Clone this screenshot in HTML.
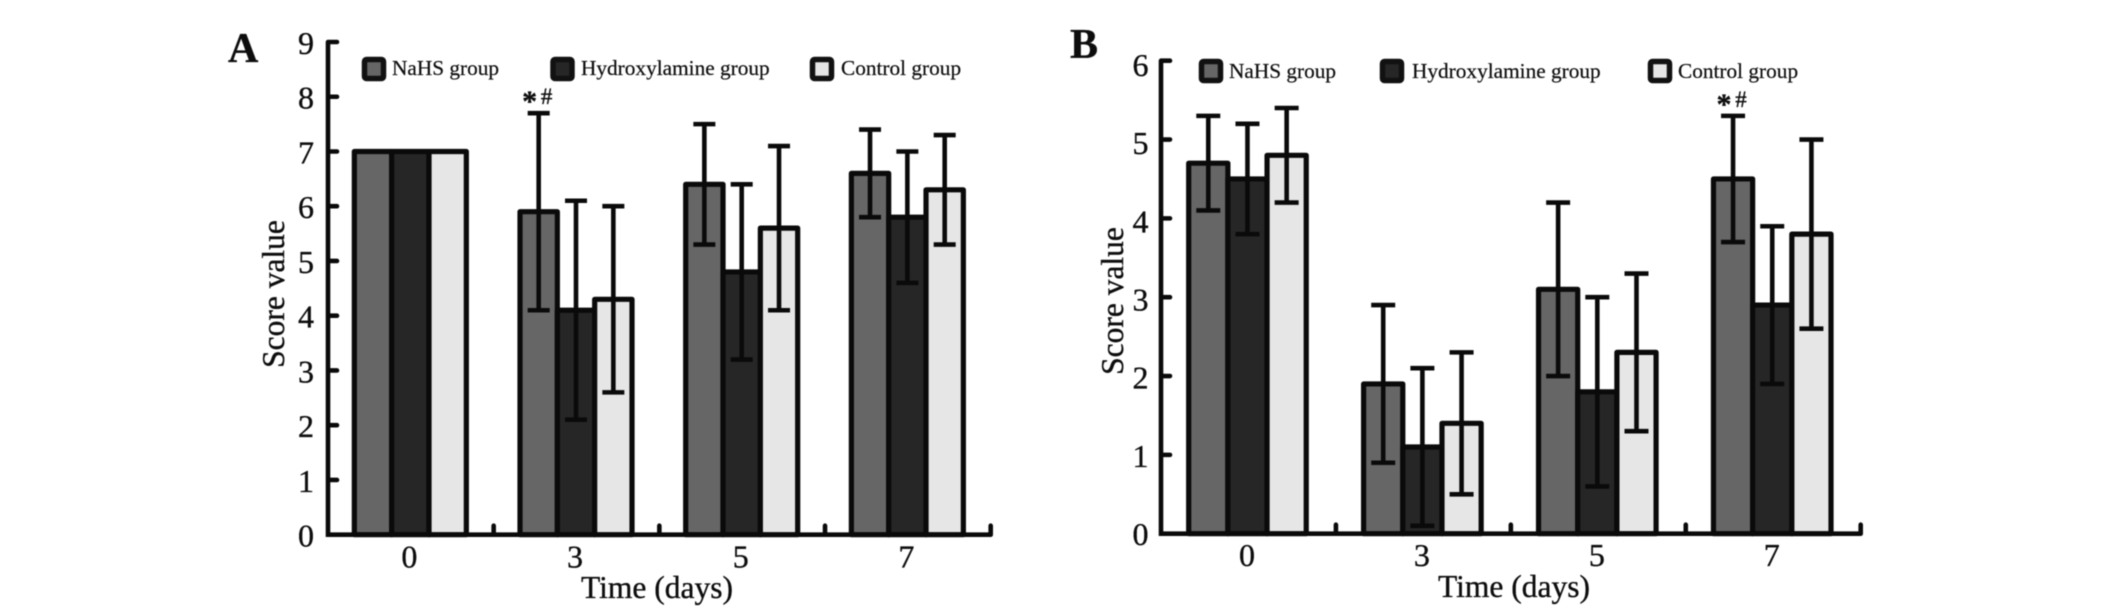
<!DOCTYPE html>
<html lang="en">
<head>
<meta charset="utf-8">
<title>Score value over time, panels A and B</title>
<style>
  html, body { margin: 0; padding: 0; background: #fff; }
  body { width: 2126px; height: 609px; overflow: hidden; }
  #figure { display: block; filter: blur(0.6px); }
  text { font-family: "Liberation Serif", serif; fill: #0d0d0d; stroke: #0d0d0d; stroke-width: 0.35px; }
  .tick { font-size: 32px; text-anchor: middle; }
  .title { font-size: 31.5px; text-anchor: middle; }
  .panel { font-size: 42px; font-weight: bold; }
  .leg { font-size: 21.3px; stroke-width: 0.2px; }
</style>
</head>
<body>
<svg id="figure" width="2126" height="609" viewBox="0 0 2126 609" xmlns="http://www.w3.org/2000/svg">
  <rect x="0" y="0" width="2126" height="609" fill="#fff"/>

  <g id="panelA">
    <text class="panel" x="228" y="62">A</text>
    <text class="title" transform="translate(284,294) rotate(-90)">Score value</text>
    <text class="title" x="657" y="598">Time (days)</text>
    <g>
      <rect x="364.5" y="59.5" width="19" height="19" rx="2" fill="#666" stroke="#111" stroke-width="5.5"/>
      <text class="leg" x="392" y="75">NaHS group</text>
      <rect x="553" y="59.5" width="19" height="19" rx="2" fill="#262626" stroke="#111" stroke-width="5.5"/>
      <text class="leg" x="581" y="75">Hydroxylamine group</text>
      <rect x="812.5" y="59.5" width="19" height="19" rx="2" fill="#e6e6e6" stroke="#111" stroke-width="5.5"/>
      <text class="leg" x="841" y="75">Control group</text>
    </g>
  </g>

  <g id="panelB">
    <text class="panel" x="1070" y="58">B</text>
    <text class="title" transform="translate(1123,301) rotate(-90)">Score value</text>
    <text class="title" x="1514" y="597">Time (days)</text>
    <g>
      <rect x="1201.5" y="61.5" width="19" height="19" rx="2" fill="#666" stroke="#111" stroke-width="5.5"/>
      <text class="leg" x="1229" y="78">NaHS group</text>
      <rect x="1382.5" y="61.5" width="19" height="19" rx="2" fill="#262626" stroke="#111" stroke-width="5.5"/>
      <text class="leg" x="1412" y="78">Hydroxylamine group</text>
      <rect x="1650.5" y="61.5" width="19" height="19" rx="2" fill="#e6e6e6" stroke="#111" stroke-width="5.5"/>
      <text class="leg" x="1678" y="78">Control group</text>
    </g>
  </g>
</svg>

<script>
// Shared categories
const categories = ['0', '3', '5', '7'];

// Panel A values
const yTicksA = [0, 1, 2, 3, 4, 5, 6, 7, 8, 9];
const nahsA = [7, 5.9, 6.4, 6.6];
const nahsHighA = [null, 7.7, 7.5, 7.4];
const nahsLowA = [null, 4.1, 5.3, 5.8];
const hydroxylamineA = [7, 4.1, 4.8, 5.8];
const hydroxylamineHighA = [null, 6.1, 6.4, 7.0];
const hydroxylamineLowA = [null, 2.1, 3.2, 4.6];
const controlA = [7, 4.3, 5.6, 6.3];
const controlHighA = [null, 6.0, 7.1, 7.3];
const controlLowA = [null, 2.6, 4.1, 5.3];

// Panel B values
const yTicksB = [0, 1, 2, 3, 4, 5, 6];
const nahsB = [4.7, 1.9, 3.1, 4.5];
const nahsHighB = [5.3, 2.9, 4.2, 5.3];
const nahsLowB = [4.1, 0.9, 2.0, 3.7];
const hydroxylamineB = [4.5, 1.1, 1.8, 2.9];
const hydroxylamineHighB = [5.2, 2.1, 3.0, 3.9];
const hydroxylamineLowB = [3.8, 0.1, 0.6, 1.9];
const controlB = [4.8, 1.4, 2.3, 3.8];
const controlHighB = [5.4, 2.3, 3.3, 5.0];
const controlLowB = [4.2, 0.5, 1.3, 2.6];

// Significance marks sit on the NaHS bar of this category index
const markCategoryA = 1;
const markCategoryB = 3;

const SVG_NS = 'http://www.w3.org/2000/svg';
const INK = '#0a0a0a';

function make(tag, attrs, parent) {
  const el = document.createElementNS(SVG_NS, tag);
  for (const k in attrs) el.setAttribute(k, attrs[k]);
  parent.appendChild(el);
  return el;
}

function drawPanel(parent, cfg, yTicks, seriesList, markCategory) {
  const yMax = yTicks[yTicks.length - 1];
  const band = (cfg.right - cfg.left) / categories.length;
  const barW = band * cfg.barShare / 3;
  const yScale = v => cfg.y0 + (cfg.yTop - cfg.y0) * v / yMax;
  const labelScale = v => cfg.labelY0 + (cfg.labelYTop - cfg.labelY0) * v / yMax;
  const xScale = i => cfg.left + band * (i + 0.5);
  const barX = (c, s) => xScale(c) + (s - 1.5) * barW - cfg.barShift;

  // Bars
  seriesList.forEach((series, s) => {
    series.values.forEach((v, c) => {
      const bar = make('rect', {
        x: barX(c, s), y: yScale(v), width: barW, height: cfg.y0 - yScale(v),
        fill: series.fill, stroke: INK, 'stroke-width': 5.2, 'stroke-linejoin': 'round'
      }, parent);
      
      
    });
  });

  // Error bars
  seriesList.forEach((series, s) => {
    series.values.forEach((v, c) => {
      if (series.high[c] === null) return;
      const cx = barX(c, s) + barW / 2;
      const hi = yScale(series.high[c]);
      const lo = yScale(series.low[c]);
      const h = cfg.cap / 2;
      const err = make('path', {
        d: 'M' + cx + ' ' + hi + 'V' + lo + 'M' + (cx - h) + ' ' + hi + 'H' + (cx + h) + 'M' + (cx - h) + ' ' + lo + 'H' + (cx + h),
        fill: 'none', stroke: INK, 'stroke-width': 4.6
      }, parent);
      
      
    });
  });

  // Axes with inward ticks
  let axisPath = 'M' + cfg.left + ' ' + cfg.yTop + 'V' + cfg.y0 + 'H' + cfg.right;
  yTicks.forEach(t => {
    axisPath += 'M' + cfg.left + ' ' + yScale(t) + 'H' + (cfg.left + 9);
  });
  categories.forEach((cat, i) => {
    const bx = cfg.left + band * (i + 1);
    axisPath += 'M' + bx + ' ' + cfg.y0 + 'V' + (cfg.y0 - 9);
  });
  const axes = make('path', {
    d: axisPath, fill: 'none', stroke: INK, 'stroke-width': 4.6, 'stroke-linecap': 'round'
  }, parent);
  
  

  // Y tick labels
  yTicks.forEach(t => {
    const label = make('text', { class: 'tick', x: cfg.left - cfg.yLabelGap, y: labelScale(t) + 11 }, parent);
    label.textContent = String(t);
    
    
  });

  // X tick labels
  categories.forEach((cat, i) => {
    const label = make('text', { class: 'tick', x: xScale(i) - 1.5, y: cfg.xLabelY }, parent);
    label.textContent = cat;
    
    
  });

  // Significance marks
  const markX = barX(markCategory, 0) + barW / 2;
  const markY = yScale(seriesList[0].high[markCategory]);
  const star = make('text', {
    x: markX - 9, y: markY - 2, 'text-anchor': 'middle', 'font-size': 30, 'font-weight': 'bold'
  }, parent);
  star.textContent = '*';
  
  
  const hash = make('text', {
    x: markX + 8, y: markY - 9, 'text-anchor': 'middle', 'font-size': 23
  }, parent);
  hash.textContent = '#';
  
  
}

drawPanel(
  document.getElementById('panelA'),
  { left: 328, right: 990.7, y0: 534.7, yTop: 42, barShare: 0.676, barShift: 0.5, cap: 22, yLabelGap: 22, xLabelY: 567.5, labelY0: 535.5, labelYTop: 43 },
  yTicksA,
  [
    { key: 'nahs', fill: '#666666', values: nahsA, high: nahsHighA, low: nahsLowA },
    { key: 'hydroxylamine', fill: '#262626', values: hydroxylamineA, high: hydroxylamineHighA, low: hydroxylamineLowA },
    { key: 'control', fill: '#e6e6e6', values: controlA, high: controlHighA, low: controlLowA }
  ],
  markCategoryA
);

drawPanel(
  document.getElementById('panelB'),
  { left: 1161, right: 1860.7, y0: 533.7, yTop: 60.7, barShare: 0.672, barShift: 1, cap: 24, yLabelGap: 20.5, xLabelY: 566, labelY0: 534, labelYTop: 65 },
  yTicksB,
  [
    { key: 'nahs', fill: '#666666', values: nahsB, high: nahsHighB, low: nahsLowB },
    { key: 'hydroxylamine', fill: '#262626', values: hydroxylamineB, high: hydroxylamineHighB, low: hydroxylamineLowB },
    { key: 'control', fill: '#e6e6e6', values: controlB, high: controlHighB, low: controlLowB }
  ],
  markCategoryB
);
</script>
</body>
</html>
